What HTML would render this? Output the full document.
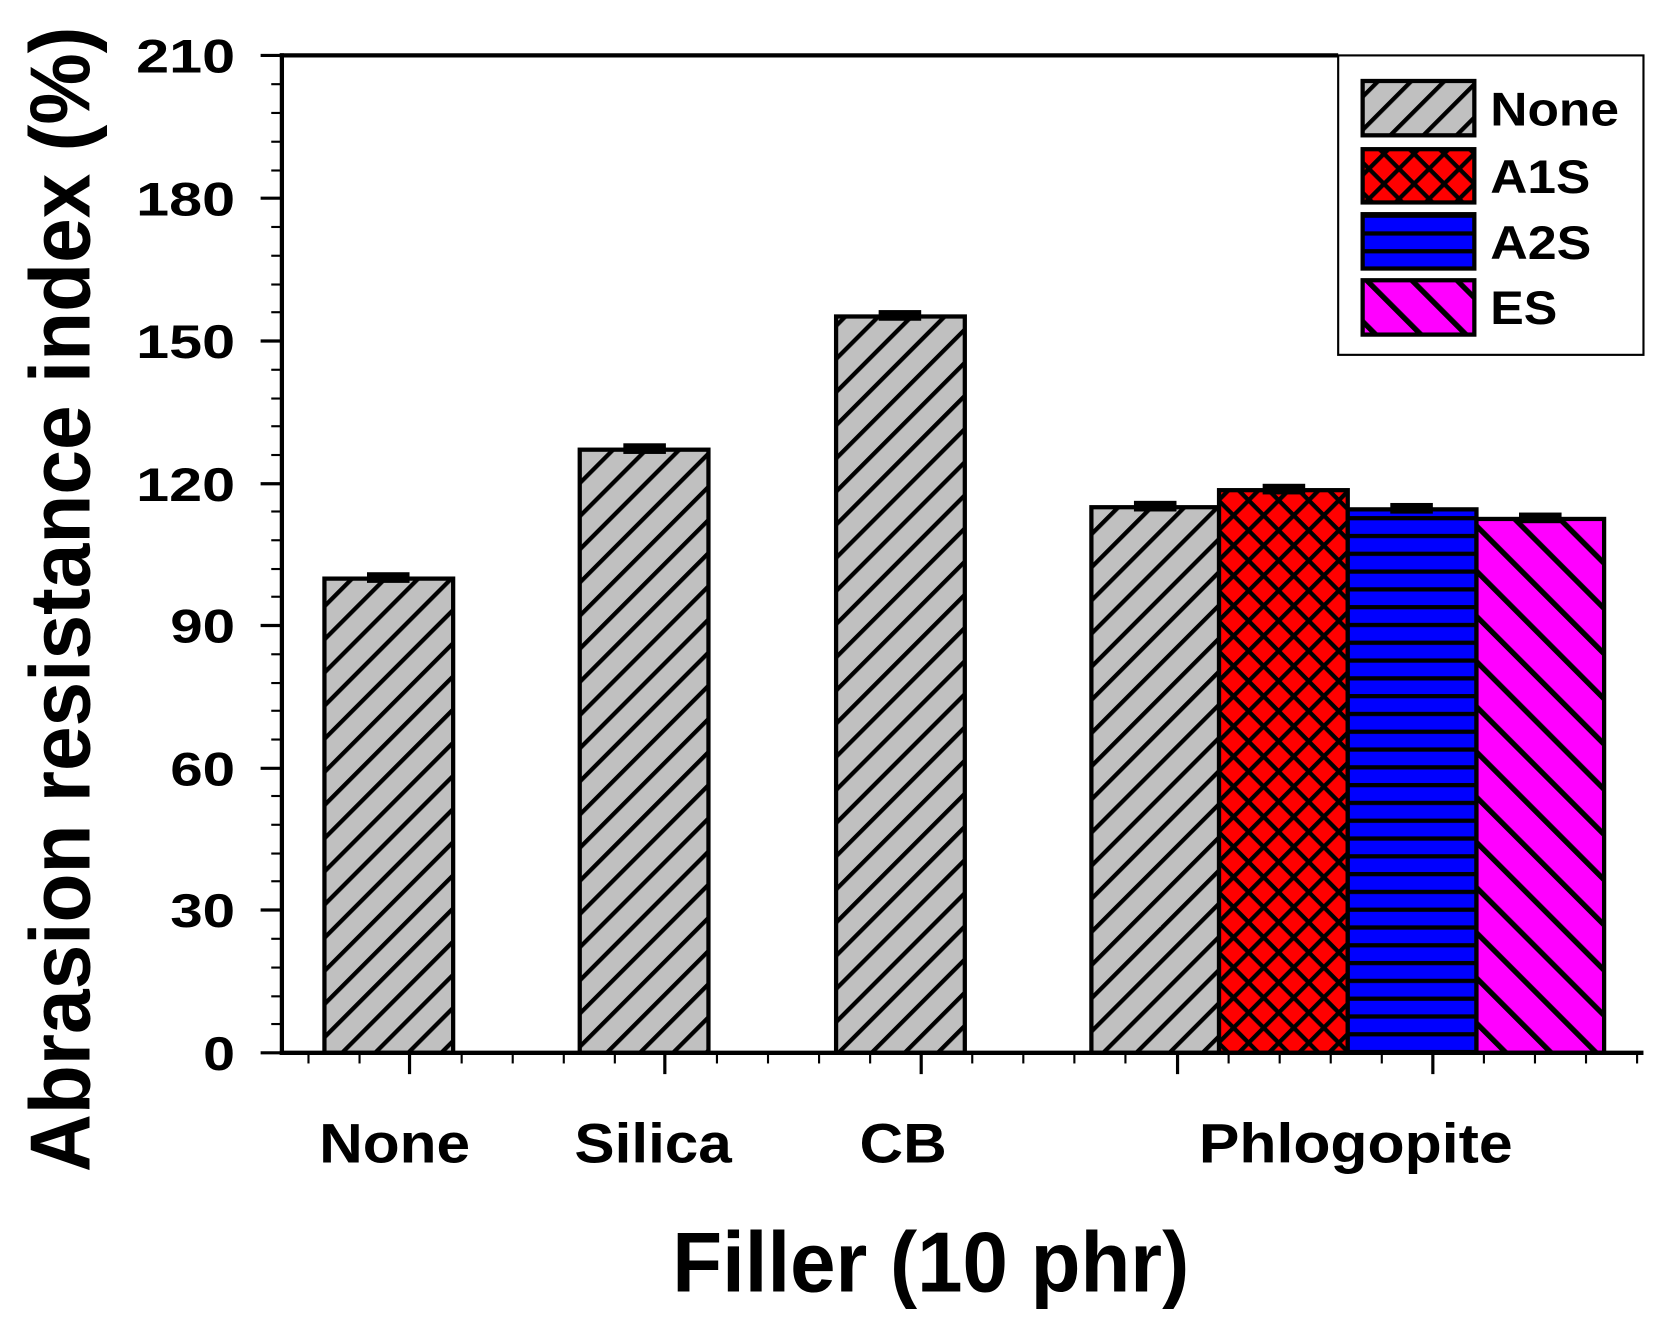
<!DOCTYPE html>
<html><head><meta charset="utf-8"><style>html,body{margin:0;padding:0;background:#fff}svg{display:block}</style></head><body>
<svg width="1669" height="1332" viewBox="0 0 1569 1250" preserveAspectRatio="none" xmlns="http://www.w3.org/2000/svg" font-family="Liberation Sans, Arial, sans-serif" font-weight="bold">
<defs>
<pattern id="pg" patternUnits="userSpaceOnUse" width="22" height="22" patternTransform="rotate(45)">
<rect width="22" height="22" fill="#c0c0c0"/><rect x="0" y="0" width="4" height="22" fill="#000"/></pattern>
<pattern id="pr" patternUnits="userSpaceOnUse" width="20" height="20" patternTransform="rotate(45)">
<rect width="20" height="20" fill="#ff0000"/><rect x="0" y="0" width="4" height="20" fill="#000"/><rect x="0" y="0" width="20" height="4" fill="#000"/></pattern>
<pattern id="pb" patternUnits="userSpaceOnUse" width="20" height="16.7">
<rect width="20" height="16.7" fill="#0000ff"/><rect y="0" width="20" height="4" fill="#000"/></pattern>
<pattern id="pm" patternUnits="userSpaceOnUse" width="30" height="30" patternTransform="rotate(-45)">
<rect width="30" height="30" fill="#ff00ff"/><rect x="0" width="5" height="30" fill="#000"/></pattern>
</defs>
<g stroke="#000" stroke-width="4">
<rect x="305" y="543" width="121" height="445" fill="url(#pg)"/>
<rect x="545" y="422" width="121" height="566" fill="url(#pg)"/>
<rect x="786" y="297" width="121" height="691" fill="url(#pg)"/>
<rect x="1026" y="476" width="120" height="512" fill="url(#pg)"/>
<rect x="1146" y="460" width="121" height="528" fill="url(#pr)"/>
<rect x="1267" y="478" width="121" height="510" fill="url(#pb)"/>
<rect x="1388" y="487" width="120" height="501" fill="url(#pm)"/>
</g>
<g fill="#000">
<rect x="345" y="537" width="40" height="10"/>
<rect x="586" y="416" width="40" height="10"/>
<rect x="826" y="291" width="40" height="10"/>
<rect x="1066" y="470" width="40" height="10"/>
<rect x="1187" y="454" width="40" height="10"/>
<rect x="1307" y="472" width="40" height="10"/>
<rect x="1428" y="481" width="40" height="10"/>
</g>
<g stroke="#000" stroke-width="4" fill="none">
<line x1="265" y1="50" x2="265" y2="990"/>
<line x1="263" y1="988" x2="1545" y2="988"/>
<line x1="263" y1="52" x2="1258" y2="52"/>
</g>
<g stroke="#000" stroke-width="3">
<line x1="265" y1="988" x2="245" y2="988"/><line x1="265" y1="854" x2="245" y2="854"/><line x1="265" y1="721" x2="245" y2="721"/><line x1="265" y1="587" x2="245" y2="587"/><line x1="265" y1="454" x2="245" y2="454"/><line x1="265" y1="320" x2="245" y2="320"/><line x1="265" y1="186" x2="245" y2="186"/><line x1="265" y1="52" x2="245" y2="52"/>
</g>
<g stroke="#000" stroke-width="3">
<line x1="385" y1="988" x2="385" y2="1008"/><line x1="625" y1="988" x2="625" y2="1008"/><line x1="866" y1="988" x2="866" y2="1008"/><line x1="1107" y1="988" x2="1107" y2="1008"/><line x1="1347" y1="988" x2="1347" y2="1008"/>
</g>
<g stroke="#000" stroke-width="2">
<line x1="290" y1="988" x2="290" y2="998"/><line x1="338" y1="988" x2="338" y2="998"/><line x1="434" y1="988" x2="434" y2="998"/><line x1="482" y1="988" x2="482" y2="998"/><line x1="530" y1="988" x2="530" y2="998"/><line x1="578" y1="988" x2="578" y2="998"/><line x1="674" y1="988" x2="674" y2="998"/><line x1="722" y1="988" x2="722" y2="998"/><line x1="770" y1="988" x2="770" y2="998"/><line x1="818" y1="988" x2="818" y2="998"/><line x1="914" y1="988" x2="914" y2="998"/><line x1="962" y1="988" x2="962" y2="998"/><line x1="1010" y1="988" x2="1010" y2="998"/><line x1="1058" y1="988" x2="1058" y2="998"/><line x1="1155" y1="988" x2="1155" y2="998"/><line x1="1203" y1="988" x2="1203" y2="998"/><line x1="1251" y1="988" x2="1251" y2="998"/><line x1="1299" y1="988" x2="1299" y2="998"/><line x1="1395" y1="988" x2="1395" y2="998"/><line x1="1443" y1="988" x2="1443" y2="998"/><line x1="1491" y1="988" x2="1491" y2="998"/><line x1="1539" y1="988" x2="1539" y2="998"/>
</g>
<g stroke="#000" stroke-width="2">
<line x1="265" y1="961" x2="255" y2="961"/><line x1="265" y1="935" x2="255" y2="935"/><line x1="265" y1="908" x2="255" y2="908"/><line x1="265" y1="881" x2="255" y2="881"/>
<line x1="265" y1="827" x2="255" y2="827"/><line x1="265" y1="801" x2="255" y2="801"/><line x1="265" y1="774" x2="255" y2="774"/><line x1="265" y1="747" x2="255" y2="747"/>
<line x1="265" y1="694" x2="255" y2="694"/><line x1="265" y1="667" x2="255" y2="667"/><line x1="265" y1="641" x2="255" y2="641"/><line x1="265" y1="614" x2="255" y2="614"/>
<line x1="265" y1="560" x2="255" y2="560"/><line x1="265" y1="534" x2="255" y2="534"/><line x1="265" y1="507" x2="255" y2="507"/><line x1="265" y1="480" x2="255" y2="480"/>
<line x1="265" y1="427" x2="255" y2="427"/><line x1="265" y1="400" x2="255" y2="400"/><line x1="265" y1="374" x2="255" y2="374"/><line x1="265" y1="347" x2="255" y2="347"/>
<line x1="265" y1="293" x2="255" y2="293"/><line x1="265" y1="267" x2="255" y2="267"/><line x1="265" y1="240" x2="255" y2="240"/><line x1="265" y1="213" x2="255" y2="213"/>
<line x1="265" y1="160" x2="255" y2="160"/><line x1="265" y1="133" x2="255" y2="133"/><line x1="265" y1="106" x2="255" y2="106"/><line x1="265" y1="79" x2="255" y2="79"/>
</g>
<g font-size="44" fill="#000" lengthAdjust="spacingAndGlyphs">
<text x="191" y="1004" textLength="30" lengthAdjust="spacingAndGlyphs">0</text>
<text x="160" y="870" textLength="61" lengthAdjust="spacingAndGlyphs">30</text>
<text x="160" y="737" textLength="61" lengthAdjust="spacingAndGlyphs">60</text>
<text x="160" y="603" textLength="61" lengthAdjust="spacingAndGlyphs">90</text>
<text x="128" y="470" textLength="93" lengthAdjust="spacingAndGlyphs">120</text>
<text x="128" y="336" textLength="93" lengthAdjust="spacingAndGlyphs">150</text>
<text x="128" y="202" textLength="93" lengthAdjust="spacingAndGlyphs">180</text>
<text x="128" y="68" textLength="93" lengthAdjust="spacingAndGlyphs">210</text>
</g>
<g font-size="52" fill="#000">
<text x="300" y="1091" textLength="142" lengthAdjust="spacingAndGlyphs">None</text>
<text x="540" y="1091" textLength="148" lengthAdjust="spacingAndGlyphs">Silica</text>
<text x="808" y="1091" textLength="82" lengthAdjust="spacingAndGlyphs">CB</text>
<text x="1127" y="1091" textLength="295" lengthAdjust="spacingAndGlyphs">Phlogopite</text>
</g>
<text x="632" y="1212" font-size="80" textLength="486" lengthAdjust="spacingAndGlyphs">Filler (10 phr)</text>
<text transform="translate(84,1100) rotate(-90)" font-size="80" textLength="1075" lengthAdjust="spacingAndGlyphs">Abrasion resistance index (%)</text>
<rect x="1258" y="52" width="287" height="281" fill="#fff" stroke="#000" stroke-width="2"/>
<g stroke="#000" stroke-width="4">
<rect x="1281" y="76" width="105" height="51" fill="url(#pg)"/>
<rect x="1281" y="140" width="105" height="50" fill="url(#pr)"/>
<rect x="1281" y="201" width="105" height="51" fill="url(#pb)"/>
<rect x="1281" y="263" width="105" height="51" fill="url(#pm)"/>
</g>
<g font-size="44" fill="#000">
<text x="1401" y="118" textLength="121" lengthAdjust="spacingAndGlyphs">None</text>
<text x="1401" y="181" textLength="94" lengthAdjust="spacingAndGlyphs">A1S</text>
<text x="1401" y="243" textLength="95" lengthAdjust="spacingAndGlyphs">A2S</text>
<text x="1401" y="304" textLength="63" lengthAdjust="spacingAndGlyphs">ES</text>
</g>
</svg>
</body></html>
